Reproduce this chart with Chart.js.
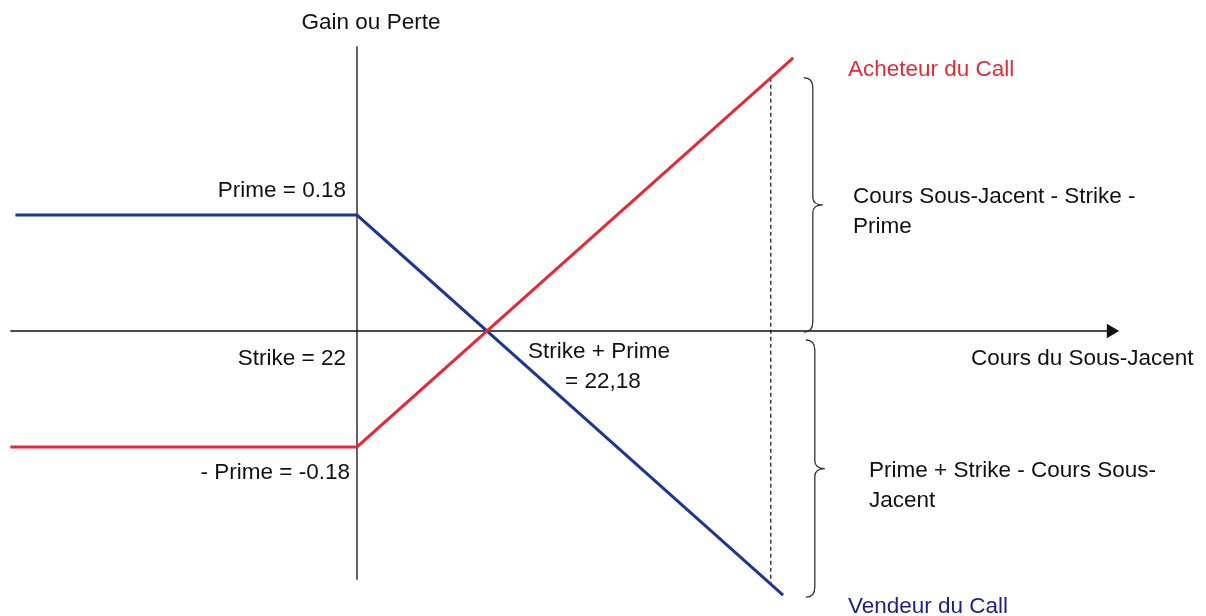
<!DOCTYPE html>
<html lang="fr">
<head>
  <meta charset="UTF-8" />
  <title>Call : Acheteur vs Vendeur</title>
  <script src="https://cdn.jsdelivr.net/npm/chart.js"></script>
  <style>
    body { margin: 0; background: #fff; }
    canvas { display: block; }
  </style>
</head>
<body>
  <canvas id="payoff" width="1206" height="616"></canvas>

  <script>
    // Strike = 22, Prime = 0.18 (schema, not to scale)
    const strike = 22;
    const prime = 0.18;

    // Acheteur du Call
    const buyerX = [21.52, 22, 22.604];
    const buyerY = [-0.18, -0.18, 0.424];

    // Vendeur du Call
    const sellerX = [21.527, 22, 22.59];
    const sellerY = [0.18, 0.18, -0.41];

    // axes
    const axisX = [21.52, 23.044];
    const axisY = [0.442, -0.386];

    // repere en pointille
    const dashX = 22.573;
    const dashY = [0.393, -0.393];

    const RED = '#e52a36';
    const BLUE = '#1c3895';
    const FONT = 'Arial, "Liberation Sans", sans-serif';

    const toPts = (xs, ys) => xs.map((x, i) => ({ x: x, y: ys[i] }));

    const labels = [
      { t: 'Gain ou Perte', x: 371, y: 23, align: 'center' },
      { t: 'Acheteur du Call', x: 848, y: 70, color: RED },
      { t: 'Prime = 0.18', x: 346, y: 191, align: 'right' },
      { t: 'Cours Sous-Jacent - Strike -', x: 853, y: 197 },
      { t: 'Prime', x: 853, y: 227 },
      { t: 'Strike = 22', x: 346, y: 359, align: 'right' },
      { t: 'Strike + Prime', x: 528, y: 352 },
      { t: '= 22,18', x: 565, y: 382 },
      { t: 'Cours du Sous-Jacent', x: 971, y: 359 },
      { t: '- Prime = -0.18', x: 350, y: 473, align: 'right' },
      { t: 'Prime + Strike - Cours Sous-', x: 869, y: 471 },
      { t: 'Jacent', x: 869, y: 501 },
      { t: 'Vendeur du Call', x: 848, y: 607, color: '#1a1f8a' }
    ];

    function brace(ctx, x0, y1, y2) {
      const ym = (y1 + y2) / 2;
      ctx.beginPath();
      ctx.moveTo(x0 - 9, y1);
      ctx.quadraticCurveTo(x0, y1, x0, y1 + 10);
      ctx.lineTo(x0, ym - 8);
      ctx.quadraticCurveTo(x0, ym, x0 + 10, ym);
      ctx.quadraticCurveTo(x0, ym, x0, ym + 8);
      ctx.lineTo(x0, y2 - 10);
      ctx.quadraticCurveTo(x0, y2, x0 - 9, y2);
      ctx.stroke();
    }

    const annotations = {
      id: 'annotations',
      afterDatasetsDraw(chart) {
        const ctx = chart.ctx;
        const xs = chart.scales.x, ys = chart.scales.y;
        const bx = xs.getPixelForValue(dashX) + 42;
        ctx.save();
        ctx.strokeStyle = '#333';
        ctx.lineWidth = 1.3;
        brace(ctx, bx, ys.getPixelForValue(dashY[0]), ys.getPixelForValue(0) + 1);
        brace(ctx, bx + 2, ys.getPixelForValue(0) + 9, ys.getPixelForValue(sellerY[2]) + 2);

        ctx.textBaseline = 'middle';
        labels.forEach(l => {
          ctx.font = '22.5px ' + FONT;
          ctx.fillStyle = l.color || '#111';
          ctx.textAlign = l.align || 'left';
          ctx.fillText(l.t, l.x, l.y);
        });
        ctx.restore();
      }
    };

    new Chart(document.getElementById('payoff'), {
      type: 'scatter',
      data: {
        datasets: [
          {
            label: 'Acheteur du Call',
            data: toPts(buyerX, buyerY),
            showLine: true,
            borderColor: RED,
            borderWidth: 3,
            pointRadius: 0,
            order: 1
          },
          {
            label: 'Vendeur du Call',
            data: toPts(sellerX, sellerY),
            showLine: true,
            borderColor: BLUE,
            borderWidth: 3,
            pointRadius: 0,
            order: 1
          },
          {
            label: 'pointille',
            data: toPts([dashX, dashX], dashY),
            showLine: true,
            borderColor: '#111',
            borderWidth: 1.2,
            borderDash: [4, 3],
            pointRadius: 0,
            order: 2
          },
          {
            label: 'axe x',
            data: toPts(axisX, [0, 0]),
            showLine: true,
            borderColor: '#111',
            borderWidth: 1.3,
            pointStyle: 'triangle',
            pointRotation: 90,
            pointRadius: [0, 7],
            pointBackgroundColor: '#111',
            pointBorderColor: '#111',
            order: 3
          },
          {
            label: 'axe y',
            data: toPts([strike, strike], axisY),
            showLine: true,
            borderColor: '#111',
            borderWidth: 1.3,
            pointRadius: 0,
            order: 3
          }
        ]
      },
      options: {
        responsive: false,
        animation: false,
        layout: { padding: 0, autoPadding: false },
        plugins: {
          legend: { display: false },
          tooltip: { enabled: false }
        },
        scales: {
          x: { type: 'linear', display: false, min: 21.5057, max: 23.1756 },
          y: { type: 'linear', display: false, min: -0.4423, max: 0.5137 }
        }
      },
      plugins: [annotations]
    });
  </script>
</body>
</html>
